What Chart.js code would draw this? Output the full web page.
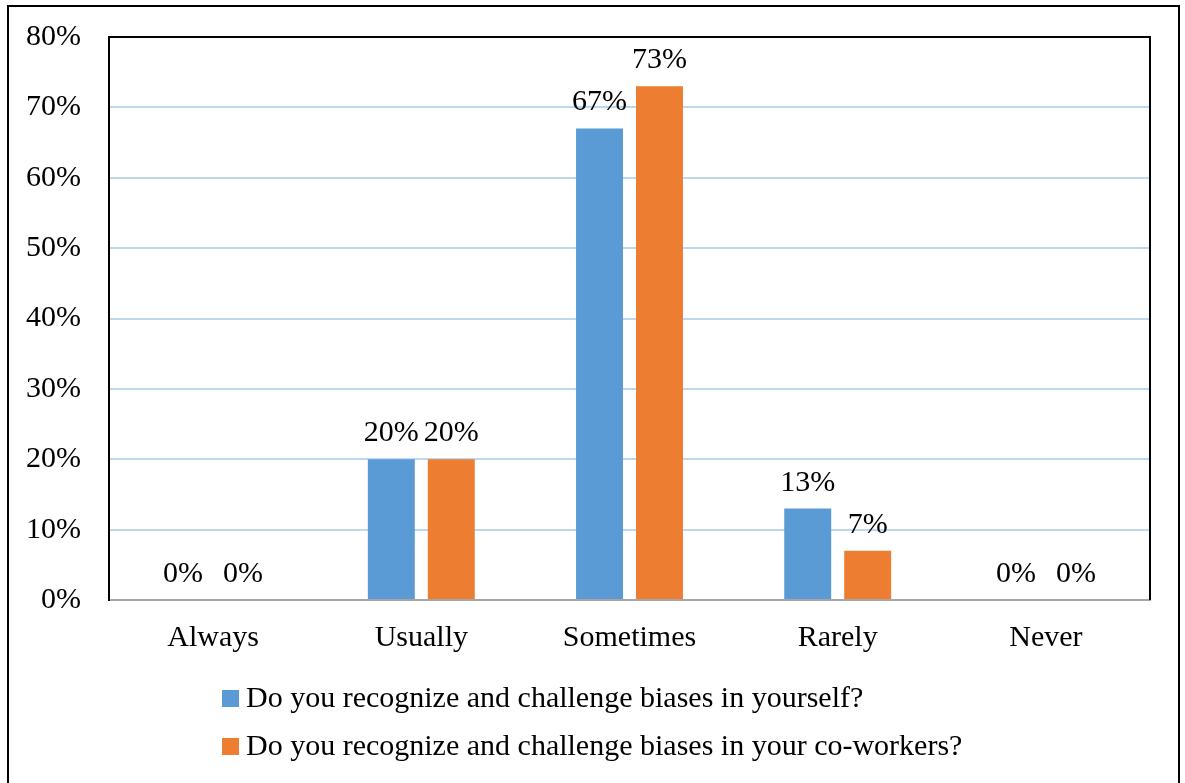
<!DOCTYPE html>
<html>
<head>
<meta charset="utf-8">
<title>Recognizing and challenging biases</title>
<script src="https://cdn.jsdelivr.net/npm/chart.js@4/dist/chart.umd.min.js"></script>
<style>
  html, body { margin: 0; padding: 0; background: #ffffff; }
  canvas { display: block; }
</style>
</head>
<body>
<canvas id="chart" width="1185" height="783"></canvas>
<script>
// Survey answers, in percent of respondents
const categories = ['Always', 'Usually', 'Sometimes', 'Rarely', 'Never'];
const selfValues = [0, 20, 67, 13, 0];
const coworkerValues = [0, 20, 73, 7, 0];
const seriesLabels = [
  'Do you recognize and challenge biases in yourself?',
  'Do you recognize and challenge biases in your co-workers?'
];
const seriesColors = ['#5B9BD5', '#ED7D31'];
const yTickMax = 80;
const yTickStep = 10;

const FONT = "'Liberation Serif', 'Times New Roman', serif";

// Page frame and white background
const framePlugin = {
  id: 'frame',
  beforeDraw(chart) {
    const ctx = chart.ctx;
    ctx.save();
    ctx.fillStyle = '#ffffff';
    ctx.fillRect(0, 0, chart.width, chart.height);
    ctx.strokeStyle = '#000000';
    ctx.lineWidth = 2;
    ctx.strokeRect(8, 6, 1171, chart.height + 20);
    ctx.restore();
  }
};

// Black box around the plot on top and right (left comes from the y axis border)
const plotBoxPlugin = {
  id: 'plotBox',
  afterDraw(chart) {
    const a = chart.chartArea;
    const ctx = chart.ctx;
    ctx.save();
    ctx.strokeStyle = '#000000';
    ctx.lineWidth = 2;
    ctx.beginPath();
    ctx.moveTo(a.left, a.bottom);
    ctx.lineTo(a.left, a.top);
    ctx.lineTo(a.right, a.top);
    ctx.lineTo(a.right, a.bottom);
    ctx.stroke();
    ctx.restore();
  }
};

// Percentage labels above each bar
const valueLabelPlugin = {
  id: 'valueLabels',
  afterDatasetsDraw(chart) {
    const ctx = chart.ctx;
    ctx.save();
    ctx.font = '30px ' + FONT;
    ctx.fillStyle = '#000000';
    ctx.textAlign = 'center';
    ctx.textBaseline = 'alphabetic';
    chart.data.datasets.forEach((ds, i) => {
      const meta = chart.getDatasetMeta(i);
      meta.data.forEach((bar, j) => {
        ctx.fillText(ds.data[j] + '%', bar.x, bar.y - 18);
      });
    });
    ctx.restore();
  }
};

// Legend as a left-aligned stacked list under the axis
const legendListPlugin = {
  id: 'legendList',
  afterDraw(chart) {
    const ctx = chart.ctx;
    ctx.save();
    ctx.font = '30px ' + FONT;
    ctx.textAlign = 'left';
    ctx.textBaseline = 'alphabetic';
    chart.data.datasets.forEach((ds, i) => {
      const top = 690 + i * 48;
      ctx.fillStyle = ds.backgroundColor;
      ctx.fillRect(222, top, 17, 17);
      ctx.fillStyle = '#000000';
      ctx.fillText(ds.label, 246, top + 17);
    });
    ctx.restore();
  }
};

new Chart(document.getElementById('chart'), {
  type: 'bar',
  data: {
    labels: categories,
    datasets: [
      { label: seriesLabels[0], data: selfValues, backgroundColor: seriesColors[0] },
      { label: seriesLabels[1], data: coworkerValues, backgroundColor: seriesColors[1] }
    ]
  },
  options: {
    responsive: false,
    animation: false,
    devicePixelRatio: 1,
    layout: { padding: { left: 0, top: 37, right: 35, bottom: 0 } },
    datasets: {
      bar: { categoryPercentage: 0.576, barPercentage: 0.783 }
    },
    plugins: {
      legend: { display: false },
      tooltip: { enabled: false }
    },
    scales: {
      x: {
        grid: { display: false, drawTicks: false },
        border: { display: true, color: '#A6A6A6', width: 2 },
        ticks: { color: '#000000', font: { family: FONT, size: 30 }, padding: 20 },
        afterFit(scale) {
          scale.height = 183;
          scale.paddingLeft = 0;
          scale.paddingRight = 0;
        }
      },
      y: {
        min: 0,
        max: yTickMax,
        ticks: {
          stepSize: yTickStep,
          color: '#000000',
          font: { family: FONT, size: 30 },
          padding: 28,
          callback: v => v + '%'
        },
        grid: { color: '#BDD7EE', lineWidth: 2, drawTicks: false },
        border: { display: true, color: '#000000', width: 2 },
        afterFit(scale) {
          scale.width = 109;
          scale.paddingTop = 0;
          scale.paddingBottom = 0;
        }
      }
    }
  },
  plugins: [framePlugin, plotBoxPlugin, valueLabelPlugin, legendListPlugin]
});
</script>
</body>
</html>
